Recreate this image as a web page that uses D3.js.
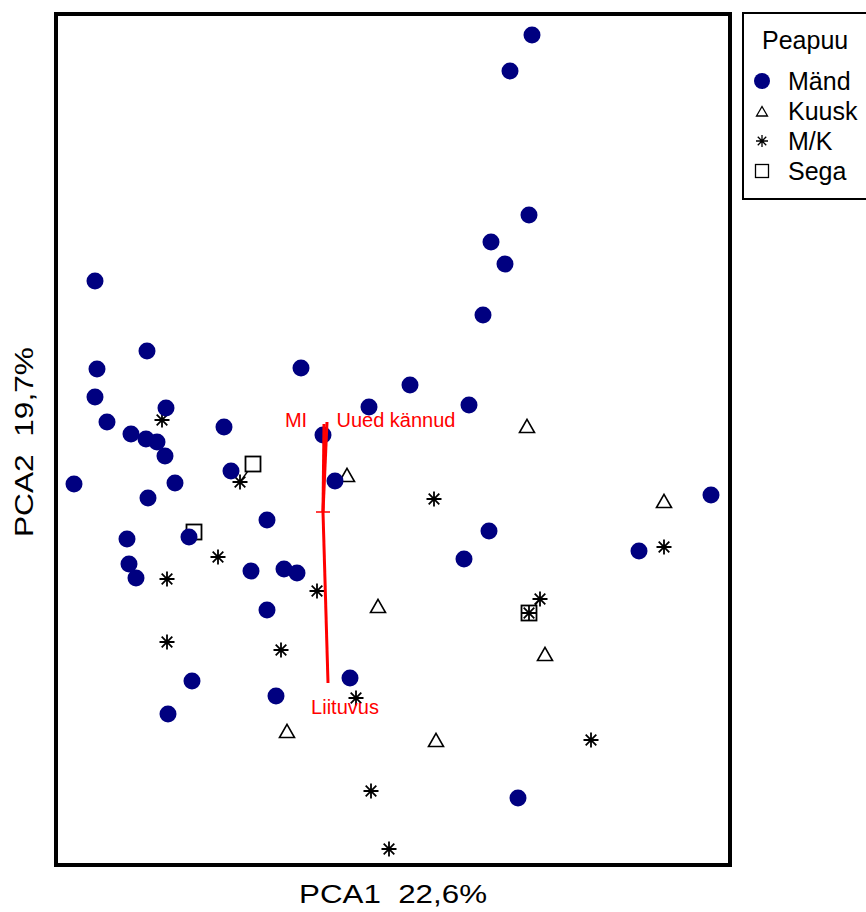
<!DOCTYPE html>
<html>
<head>
<meta charset="utf-8">
<script src="https://cdn.jsdelivr.net/npm/d3@7"></script>
<style>
  html, body { margin: 0; padding: 0; background: #fff; }
  svg { display: block; font-family: "Liberation Sans", Arial, sans-serif; }
</style>
</head>
<body>
<svg id="chart" width="866" height="912"></svg>
<script>
// PCA site scores, grouped by dominant tree species (Peapuu)
const mand = [
  [2.09, 4.77], [1.87, 4.41], [2.06, 2.97], [1.68, 2.70], [1.82, 2.48], [1.60, 1.97],
  [-2.28, 2.31], [-1.76, 1.61], [-2.26, 1.43], [-0.22, 1.44], [0.87, 1.27], [-2.28, 1.15],
  [0.46, 1.05], [1.46, 1.07], [-1.57, 1.04], [-2.16, 0.90], [-0.99, 0.85], [-1.92, 0.78],
  [-1.77, 0.73], [-1.66, 0.70], [0.00, 0.77], [-1.58, 0.56], [-0.92, 0.41], [-2.49, 0.28],
  [-1.48, 0.29], [0.12, 0.31], [-1.75, 0.14], [3.88, 0.17], [-0.56, -0.08], [1.66, -0.19],
  [-1.96, -0.27], [-1.34, -0.25], [1.41, -0.47], [3.16, -0.39], [-1.94, -0.52], [-1.87, -0.66],
  [-0.72, -0.59], [-0.39, -0.57], [-0.26, -0.61], [-0.56, -0.98], [0.27, -1.66], [-1.31, -1.69],
  [-0.47, -1.84], [-1.55, -2.02], [1.95, -2.86]
];
const kuusk = [
  [2.04, 0.85], [0.24, 0.36], [0.55, -0.95], [2.22, -1.43], [3.41, 0.10], [-0.36, -2.20], [1.13, -2.29]
];
const mk = [
  [-1.61, 0.92], [-0.83, 0.30], [-1.05, -0.45], [-1.56, -0.67], [-0.06, -0.79], [-1.56, -1.30],
  [-0.42, -1.38], [0.33, -1.86], [1.11, 0.13], [2.17, -0.87], [2.06, -1.01], [3.41, -0.35],
  [2.68, -2.28], [0.48, -2.79], [0.66, -3.37]
];
const sega = [
  [-0.70, 0.48], [-1.29, -0.20], [2.06, -1.01]
];
// short connectors between neighbouring M/K and Sega sites
const links = [
  [[-0.83, 0.30], [-0.70, 0.48]],
  [[2.17, -0.87], [2.06, -1.01]]
];

// fitted environmental vectors (biplot arrows) and their label positions
const vecNames = ["MI", "Uued kännud", "Liituvus"];
const vecTips = [[0.01, 0.88], [0.04, 0.90], [0.05, -1.71]];
const vecLabels = [[-0.27, 0.92], [0.73, 0.92], [0.22, -1.95]];

const legendTitle = "Peapuu";
const legendNames = ["Mänd", "Kuusk", "M/K", "Sega"];
const xTitle = "PCA1  22,6%";
const yTitle = "PCA2  19,7%";

const navy = "#000080", red = "#ff0000";
const svg = d3.select("#chart");

const plot = { left: 56, right: 730, top: 14, bottom: 865 };
const x = d3.scaleLinear().domain([-2.67, 4.07]).range([plot.left, plot.right]);
const y = d3.scaleLinear().domain([-3.53, 4.98]).range([plot.bottom, plot.top]);

// symbol path builders
function starPath(h) {
  const d = h * Math.SQRT1_2;
  return `M${-h},0L${h},0M0,${-h}L0,${h}M${-d},${-d}L${d},${d}M${-d},${d}L${d},${-d}`;
}
function triPath(w) {
  const h = w * 0.87;
  return `M0,${-h * 0.58}L${w / 2},${h * 0.42}L${-w / 2},${h * 0.42}Z`;
}

const g = svg.append("g");

// connectors
g.selectAll("line.link").data(links).join("line")
  .attr("x1", d => x(d[0][0])).attr("y1", d => y(d[0][1]))
  .attr("x2", d => x(d[1][0])).attr("y2", d => y(d[1][1]))
  .attr("stroke", "#000").attr("stroke-width", 1.3);

// Sega: open squares
g.selectAll("rect.sega").data(sega).join("rect")
  .attr("x", d => x(d[0]) - 7.5).attr("y", d => y(d[1]) - 7.5)
  .attr("width", 15).attr("height", 15)
  .attr("fill", "#fff").attr("stroke", "#000").attr("stroke-width", 1.8);

// M/K: asterisks
g.selectAll("path.mk").data(mk).join("path")
  .attr("transform", d => `translate(${x(d[0])},${y(d[1])})`)
  .attr("d", starPath(7.5))
  .attr("fill", "none").attr("stroke", "#000").attr("stroke-width", 1.8);

// Kuusk: open triangles
g.selectAll("path.kuusk").data(kuusk).join("path")
  .attr("transform", d => `translate(${x(d[0])},${y(d[1])})`)
  .attr("d", triPath(15))
  .attr("fill", "none").attr("stroke", "#000").attr("stroke-width", 1.6);

// Mänd: filled navy circles
g.selectAll("circle.mand").data(mand).join("circle")
  .attr("cx", d => x(d[0])).attr("cy", d => y(d[1]))
  .attr("r", 8.5).attr("fill", navy);

// environmental vectors
g.selectAll("line.vec").data(vecTips).join("line")
  .attr("x1", x(0)).attr("y1", y(0))
  .attr("x2", d => x(d[0])).attr("y2", d => y(d[1]))
  .attr("stroke", red).attr("stroke-width", 3);

// origin marker
g.append("path")
  .attr("d", `M${x(0) - 7},${y(0)}L${x(0) + 7},${y(0)}M${x(0)},${y(0) - 7}L${x(0)},${y(0) + 7}`)
  .attr("stroke", red).attr("stroke-width", 1.5);

g.selectAll("text.vec").data(vecNames).join("text")
  .attr("x", (d, i) => x(vecLabels[i][0]))
  .attr("y", (d, i) => y(vecLabels[i][1]))
  .attr("text-anchor", "middle").attr("dy", "0.35em")
  .attr("font-size", 20).attr("fill", red)
  .text(d => d);

// plot frame
svg.append("rect")
  .attr("x", plot.left).attr("y", plot.top)
  .attr("width", plot.right - plot.left).attr("height", plot.bottom - plot.top)
  .attr("fill", "none").attr("stroke", "#000").attr("stroke-width", 4);

// axis titles
svg.append("text")
  .attr("x", (plot.left + plot.right) / 2).attr("y", 903)
  .attr("text-anchor", "middle").attr("font-size", 26)
  .attr("textLength", 188).attr("lengthAdjust", "spacingAndGlyphs")
  .style("white-space", "pre")
  .text(xTitle);
svg.append("text")
  .attr("transform", `translate(33,442) rotate(-90)`)
  .attr("text-anchor", "middle").attr("font-size", 26)
  .attr("textLength", 190).attr("lengthAdjust", "spacingAndGlyphs")
  .style("white-space", "pre")
  .text(yTitle);

// legend
const lg = svg.append("g");
lg.append("rect")
  .attr("x", 743).attr("y", 13).attr("width", 140).attr("height", 186)
  .attr("fill", "#fff").attr("stroke", "#000").attr("stroke-width", 2);
lg.append("text").attr("x", 762).attr("y", 49).attr("font-size", 25).text(legendTitle);

const rowY = d3.scalePoint().domain(legendNames).range([81, 171]);
const symX = 762;
lg.append("circle").attr("cx", symX).attr("cy", rowY("Mänd")).attr("r", 8).attr("fill", navy);
lg.append("path").attr("transform", `translate(${symX},${rowY("Kuusk") + 1})`)
  .attr("d", triPath(11)).attr("fill", "none").attr("stroke", "#000").attr("stroke-width", 1.3);
lg.append("path").attr("transform", `translate(${symX},${rowY("M/K")})`)
  .attr("d", starPath(6)).attr("fill", "none").attr("stroke", "#000").attr("stroke-width", 1.3);
lg.append("rect").attr("x", symX - 6.5).attr("y", rowY("Sega") - 6.5)
  .attr("width", 13).attr("height", 13)
  .attr("fill", "none").attr("stroke", "#000").attr("stroke-width", 1.3);
lg.selectAll("text.item").data(legendNames).join("text")
  .attr("x", 788).attr("y", d => rowY(d)).attr("dy", "0.36em")
  .attr("font-size", 25).text(d => d);
</script>
</body>
</html>
